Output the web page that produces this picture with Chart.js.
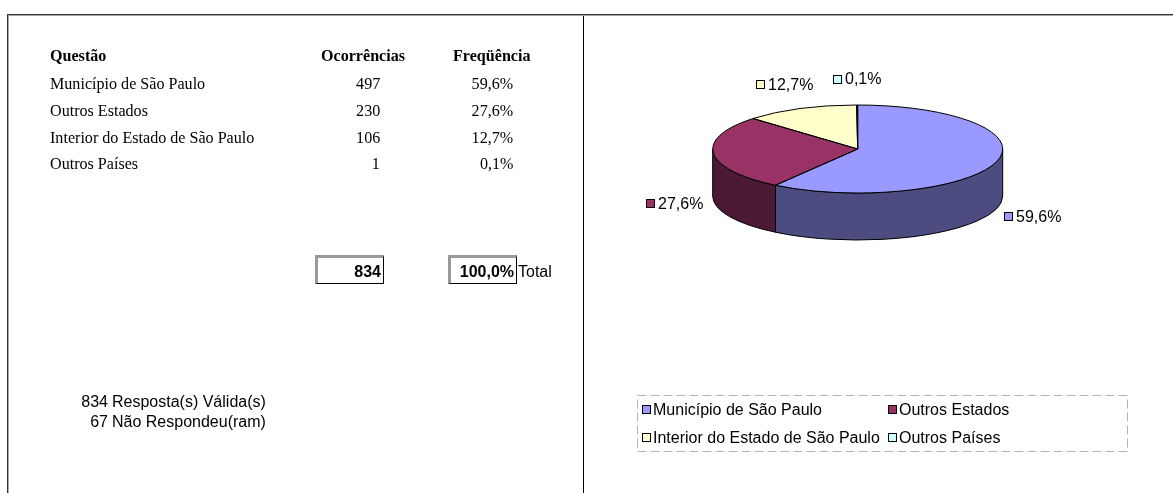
<!DOCTYPE html>
<html>
<head>
<meta charset="utf-8">
<script src="https://cdn.jsdelivr.net/npm/chart.js@4.4.0/dist/chart.umd.js"></script>
<style>
    html, body { margin: 0; padding: 0; background: #fff; }
    body { width: 1173px; height: 493px; position: relative; overflow: hidden; color: #000;
           font-family: "Liberation Sans", Arial, sans-serif; }
    .abs { position: absolute; white-space: nowrap; }
    .sans { font-size: 16px; line-height: 18px; }
    .serif { font-family: "Liberation Serif", "Times New Roman", serif; font-size: 17.5px; line-height: 20px;
             transform: scaleX(0.92); }
    .b { font-weight: bold; }
    .line { position: absolute; }
    .cell { position: absolute; box-sizing: border-box; border-top: 3px solid #9a9a9a; border-left: 3px solid #9a9a9a;
            border-right: 1px solid #000; border-bottom: 1px solid #000; }
    .sq { position: absolute; width: 9px; height: 9px; box-sizing: border-box; border: 1px solid #000; }
    #pie { position: absolute; left: 584px; top: 16px; }
</style>
</head>
<body>
<div class="line" style="left:7px;top:14px;width:1166px;height:1px;background:#333;"></div>
<div class="line" style="left:8px;top:15px;width:1165px;height:1px;background:#a8a8a8;"></div>
<div class="line" style="left:7px;top:14px;width:1px;height:479px;background:#333;"></div>
<div class="line" style="left:8px;top:15px;width:1px;height:478px;background:#a8a8a8;"></div>
<div class="line" style="left:583px;top:16px;width:1px;height:477px;background:#000;"></div>
<canvas id="pie" width="589" height="360"></canvas>
<svg class="abs" style="left:0;top:0;" width="1173" height="493">
    <rect x="637.5" y="395.5" width="490" height="56" fill="none" stroke="#b4b4b4" stroke-width="1" stroke-dasharray="9 4"></rect>
</svg>
<script>
const categories = ['Município de São Paulo', 'Outros Estados', 'Interior do Estado de São Paulo', 'Outros Países'];
const occurrences = [497, 230, 106, 1];
const frequencies = [59.6, 27.6, 12.7, 0.1];
const totalCount = 834;
const totalPct = 100.0;
const validCount = 834;
const missingCount = 67;
const topColors = ['#9999FF', '#993366', '#FFFFCC', '#CCFFFF'];
const sideColors = ['#4C4C80', '#4C1933', '#808066', '#668080'];

const fmtPct = (v) => v.toFixed(1).replace('.', ',') + '%';

function txt(str, x, cy, align, cls) {
    const d = document.createElement('div');
    d.className = 'abs ' + cls;
    d.textContent = str;
    const serif = cls.indexOf('serif') >= 0;
    d.style.top = (cy - (serif ? 10.1 : 8.8)) + 'px';
    if (align === 'right') d.style.right = (1173 - x) + 'px';
    else d.style.left = x + 'px';
    if (serif) d.style.transformOrigin = (align === 'right' ? 'right' : 'left') + ' center';
    document.body.appendChild(d);
    return d;
}

// table, left panel
txt('Questão', 50, 55, 'left', 'serif b');
txt('Ocorrências', 321, 55, 'left', 'serif b');
txt('Freqüência', 453, 55, 'left', 'serif b');
categories.forEach((c, i) => {
    const y = 83 + i * 26.8;
    txt(c, 50, y, 'left', 'serif');
    txt(String(occurrences[i]), 380, y, 'right', 'serif');
    txt(fmtPct(frequencies[i]), 513, y, 'right', 'serif');
});

[[315, String(totalCount)], [448, fmtPct(totalPct)]].forEach(([x, s]) => {
    const c = document.createElement('div');
    c.className = 'cell';
    c.style.cssText += `left:${x}px;top:255px;width:69px;height:29px;`;
    document.body.appendChild(c);
    txt(s, x + 66, 271.5, 'right', 'sans b');
});
txt('Total', 518, 272, 'left', 'sans');

txt(String(validCount), 108, 401.7, 'right', 'sans');
txt('Resposta(s) Válida(s)', 112, 401.7, 'left', 'sans');
txt(String(missingCount), 108, 421.7, 'right', 'sans');
txt('Não Respondeu(ram)', 112, 421.7, 'left', 'sans');

// legend, two columns
categories.forEach((c, i) => {
    const x = i % 2 ? 888 : 642, y = i < 2 ? 409.3 : 437.3;
    const s = document.createElement('div');
    s.className = 'sq';
    s.style.cssText += `left:${x}px;top:${Math.round(y - 4.5)}px;background:${topColors[i]};`;
    document.body.appendChild(s);
    txt(c, x + 11, y, 'left', 'sans');
});

const pie3d = {
    id: 'pie3d',
    beforeDatasetsDraw(chart, args, o) {
        const ctx = chart.ctx;
        const arcs = chart.getDatasetMeta(0).data;
        const cx = arcs[0].x, cy = arcs[0].y, r = arcs[0].outerRadius, ry = r * o.tilt;
        ctx.save();
        ctx.lineWidth = 1;
        ctx.strokeStyle = '#000';
        arcs.forEach((a, i) => {
            const a0 = Math.max(a.startAngle, 0), a1 = Math.min(a.endAngle, Math.PI);
            if (a1 <= a0) return;
            ctx.beginPath();
            ctx.ellipse(cx, cy, r, ry, 0, a0, a1);
            ctx.lineTo(cx + r * Math.cos(a1), cy + ry * Math.sin(a1) + o.depth);
            ctx.ellipse(cx, cy + o.depth, r, ry, 0, a1, a0, true);
            ctx.closePath();
            ctx.fillStyle = sideColors[i];
            ctx.fill();
            ctx.stroke();
        });
        ctx.restore();
        ctx.save();
        ctx.translate(0, cy);
        ctx.scale(1, o.tilt);
        ctx.translate(0, -cy);
    },
    afterDatasetsDraw(chart, args, o) {
        const ctx = chart.ctx;
        ctx.restore();
        const arcs = chart.getDatasetMeta(0).data;
        const cx = arcs[0].x, cy = arcs[0].y, r = arcs[0].outerRadius, ry = r * o.tilt;
        ctx.save();
        ctx.lineWidth = 1;
        ctx.strokeStyle = '#000';
        arcs.forEach((a) => {
            ctx.beginPath();
            ctx.moveTo(cx, cy);
            ctx.ellipse(cx, cy, r, ry, 0, a.startAngle, a.endAngle);
            ctx.closePath();
            ctx.stroke();
        });
        // value labels with colour key
        ctx.font = '16px "Liberation Sans", Arial, sans-serif';
        ctx.textBaseline = 'middle';
        arcs.forEach((a, i) => {
            const mid = (a.startAngle + a.endAngle) / 2;
            const c = Math.cos(mid), s = Math.sin(mid);
            const ax = cx + r * c, ay = cy + ry * s + (s > 0 ? o.depth : 0);
            const text = fmtPct(frequencies[i]);
            const w = 12 + ctx.measureText(text).width, h = 16;
            const bx = ax + c * (w / 2 + o.gapX), by = ay + s * (h / 2 + o.gapY);
            const x0 = Math.round(bx - w / 2), y0 = Math.round(by - 4.5);
            ctx.fillStyle = topColors[i];
            ctx.fillRect(x0, y0, 9, 9);
            ctx.strokeRect(x0 + 0.5, y0 + 0.5, 8, 8);
            ctx.fillStyle = '#000';
            ctx.fillText(text, x0 + 12, by + 1);
        });
        ctx.restore();
    }
};

new Chart(document.getElementById('pie'), {
    type: 'pie',
    data: {
        labels: categories,
        datasets: [{ data: occurrences, backgroundColor: topColors, borderWidth: 0, clip: false }]
    },
    options: {
        responsive: false,
        animation: false,
        events: [],
        radius: 145,
        layout: { padding: { left: 0, top: 0, right: 41.6, bottom: 94 } },
        plugins: {
            legend: { display: false },
            tooltip: { enabled: false },
            pie3d: { tilt: 44 / 145, depth: 47, gapX: 10, gapY: 18 }
        }
    },
    plugins: [pie3d]
});
</script>
</body>
</html>
